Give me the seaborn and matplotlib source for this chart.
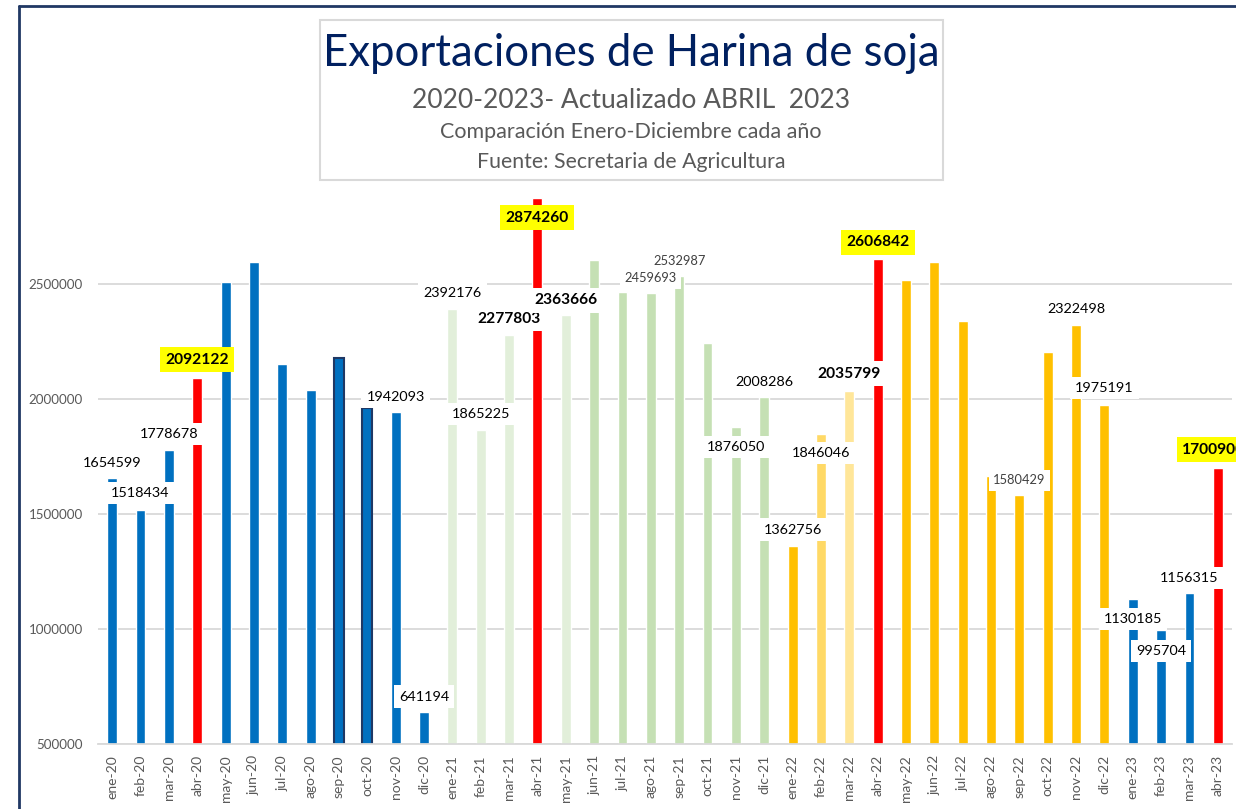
import numpy as np
import pandas as pd
import matplotlib.pyplot as plt
import seaborn as sns
from matplotlib.lines import Line2D
from matplotlib.patches import Rectangle

# Datos: exportaciones mensuales de harina de soja (toneladas)
meses = ['ene-20', 'feb-20', 'mar-20', 'abr-20', 'may-20', 'jun-20', 'jul-20', 'ago-20',
         'sep-20', 'oct-20', 'nov-20', 'dic-20',
         'ene-21', 'feb-21', 'mar-21', 'abr-21', 'may-21', 'jun-21', 'jul-21', 'ago-21',
         'sep-21', 'oct-21', 'nov-21', 'dic-21',
         'ene-22', 'feb-22', 'mar-22', 'abr-22', 'may-22', 'jun-22', 'jul-22', 'ago-22',
         'sep-22', 'oct-22', 'nov-22', 'dic-22',
         'ene-23', 'feb-23', 'mar-23', 'abr-23']
valores_2020 = [1654599, 1518434, 1778678, 2092122, 2510000, 2597000, 2150000, 2038000,
                2178000, 1960000, 1942093, 641194]
valores_2021 = [2392176, 1865225, 2277803, 2874260, 2363666, 2603000, 2463000, 2459693,
                2532987, 2242000, 1876050, 2008286]
valores_2022 = [1362756, 1846046, 2035799, 2606842, 2518000, 2593000, 2340000, 1665000,
                1580429, 2205000, 2322498, 1975191]
valores_2023 = [1130185, 995704, 1156315, 1700900]
valores = valores_2020 + valores_2021 + valores_2022 + valores_2023

# Colores por mes
azul, rojo = '#0070C0', '#FF0000'
verde1, verde2 = '#E2EFDA', '#C5E0B4'
nar1, nar2, nar3 = '#FFC000', '#FFD966', '#FFE699'
colores = ([azul] * 3 + [rojo] + [azul] * 8
           + [verde1] * 3 + [rojo] + [verde1] + [verde2] * 7
           + [nar1, nar2, nar3, rojo] + [nar1] * 8
           + [azul] * 3 + [rojo])
bordes = {8: '#1F3864', 9: '#1F3864'}

# Etiquetas: indice -> (desplazamiento x, desplazamiento y en px, estilo)
etiquetas = {
    0: (0, 15, 'normal'), 1: (0, 17, 'normal'), 2: (0, 16, 'normal'),
    3: (0, 18, 'destacado'), 10: (0, 15, 'normal'), 11: (0, 15, 'normal'),
    12: (0, 16, 'normal'), 13: (0, 16, 'normal'), 14: (0, 16, 'negrita'),
    15: (0, -20, 'destacado'), 16: (0, 15, 'negrita'), 19: (0, 15, 'gris'),
    20: (0, 15, 'gris'), 22: (0, -20, 'normal'), 23: (0, 15, 'normal'),
    24: (0, 16, 'normal'), 25: (0, -19, 'normal'), 26: (0, 17, 'negrita'),
    27: (0, 17, 'destacado'), 32: (0, 15, 'gris'), 34: (0, 16, 'normal'),
    35: (0, 17, 'normal'), 36: (0, -20, 'normal'), 37: (0, -21, 'normal'),
    38: (0, 15, 'normal'), 39: (-4, 18, 'destacado'),
}
estilos = {
    'normal': dict(fontsize=10.4, fontweight='normal', color='black', fc='white'),
    'negrita': dict(fontsize=11.2, fontweight='bold', color='black', fc='white'),
    'destacado': dict(fontsize=11.2, fontweight='bold', color='black', fc='#FFFF00'),
    'gris': dict(fontsize=9.3, fontweight='normal', color='#404040', fc='white'),
}

sns.set_style('white')
plt.rcParams['font.family'] = ['Lato', 'DejaVu Sans']

df = pd.DataFrame({'mes': meses, 'valor': valores})

fig = plt.figure(figsize=(12.36, 8.09), dpi=100)
ax = fig.add_axes([98 / 1236, 1 - 744 / 809, (1232 - 98) / 1236, (744 - 190) / 809])

sns.barplot(data=df, x='mes', y='valor', hue='mes', palette=colores, legend=False,
            width=0.35, saturation=1, ax=ax, zorder=2)
for i, p in enumerate(ax.patches):
    if i in bordes:
        p.set_edgecolor(bordes[i])
        p.set_linewidth(1.5)

ax.set_ylim(500000, 2908000)
ax.set_xlim(-0.5, len(meses) - 0.5)
ax.set_yticks([500000, 1000000, 1500000, 2000000, 2500000])
ax.set_yticklabels(['500000', '1000000', '1500000', '2000000', '2500000'])
ax.yaxis.grid(True, color='#D9D9D9', lw=1.3, zorder=0)
ax.set_axisbelow(True)
ax.set_xlabel('')
ax.set_ylabel('')
for s in ['top', 'right', 'left']:
    ax.spines[s].set_visible(False)
ax.spines['bottom'].set_color('#D9D9D9')
ax.spines['bottom'].set_linewidth(1.3)

ax.set_xticks(range(len(meses)))
ax.set_xticklabels(meses, rotation=90)
ax.set_xticks(np.arange(-0.5, len(meses), 1), minor=True)
ax.tick_params(axis='x', which='major', length=0, pad=8, labelsize=10, labelcolor='#595959')
ax.tick_params(axis='x', which='minor', length=5, width=1.2, color='#D9D9D9', direction='out')
ax.tick_params(axis='y', length=0, pad=11, labelsize=9.6, labelcolor='#595959')

# Etiquetas de datos
for i, (dx, dy, est) in etiquetas.items():
    e = estilos[est]
    ax.annotate(str(valores[i]), xy=(i, valores[i]), xytext=(dx, dy),
                textcoords='offset pixels', ha='center', va='center',
                fontsize=e['fontsize'], fontweight=e['fontweight'], color=e['color'],
                bbox=dict(boxstyle='square,pad=0.35', fc=e['fc'], ec='none'),
                annotation_clip=False, zorder=5)

# Cuadro de titulo
fig.add_artist(Rectangle((320 / 1236, 1 - 180 / 809), 623 / 1236, 160 / 809,
                         transform=fig.transFigure, fill=False, ec='#D9D9D9', lw=1.5))
fig.text(631 / 1236, 1 - 53 / 809, 'Exportaciones de Harina de soja', ha='center', va='center',
         fontsize=31.5, color='#002060')
fig.text(631 / 1236, 1 - 101 / 809, '2020-2023- Actualizado ABRIL  2023', ha='center', va='center',
         fontsize=19, color='#595959')
fig.text(631 / 1236, 1 - 132 / 809, 'Comparación Enero-Diciembre cada año', ha='center', va='center',
         fontsize=15.5, color='#595959')
fig.text(631 / 1236, 1 - 162 / 809, 'Fuente: Secretaria de Agricultura', ha='center', va='center',
         fontsize=15.3, color='#595959')

# Borde azul del grafico
fig.add_artist(Line2D([19 / 1236, 19 / 1236], [0, 1 - 6 / 809], transform=fig.transFigure,
                      color='#203864', lw=2))
fig.add_artist(Line2D([19 / 1236, 1], [1 - 6 / 809, 1 - 6 / 809], transform=fig.transFigure,
                      color='#203864', lw=2))

fig.savefig('out.png', dpi=100)
